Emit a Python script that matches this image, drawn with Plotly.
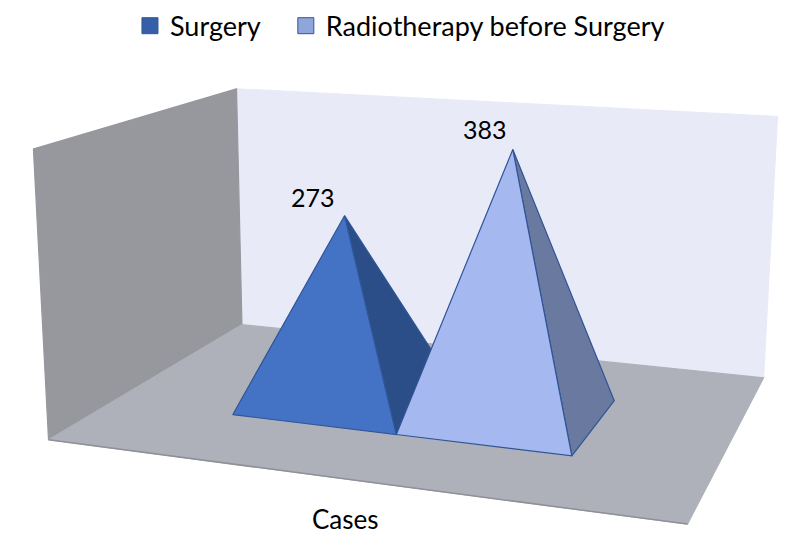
import math
import plotly.graph_objects as go

categories = ["Cases"]
series_names = ["Surgery", "Radiotherapy before Surgery"]
series_values = [273, 383]
axis_max = 400

FRONT = ["#4472c4", "#a5b9f0"]
SIDE = ["#2b4e88", "#6a799f"]
SWATCH = ["#3560a8", "#8fa6da"]
EDGE = "#2f5597"
FONT = "Lato"

# Scene: x along the floor width, y depth, z height (0..axis_max)
floor_x = (0.0, 1.123)
floor_y = (0.0, 0.793)
height_scale = 0.515 / axis_max
base_starts = [0.244, 0.5625]
base_width = 0.3185
base_y = (0.234, 0.5525)
label_dx = [-32, -28]
label_dy = [19, 20]
legend_pad = ["\u00a0\u00a0\u00a0", ""]

# Camera (the page body adds an 8 px margin, hence the 792x530 frame)
F_PX, CX, CY = 1700.0, 392.0, 261.0
yaw, pitch = math.radians(20.0), math.radians(13.8)
OX, OY = -1.542, 2.438  # floor origin relative to a camera of height 1


def project(x, y, z):
    wx, wy, wz = x + OX, y + OY, z * height_scale - 1.0
    sy, cy = math.sin(yaw), math.cos(yaw)
    sp, cp = math.sin(pitch), math.cos(pitch)
    R = (cy, sy, 0.0)
    Fw = (-sy * cp, cy * cp, -sp)
    U = (-sy * sp, cy * sp, cp)
    d = wx * Fw[0] + wy * Fw[1] + wz * Fw[2]
    r = wx * R[0] + wy * R[1] + wz * R[2]
    u = wx * U[0] + wy * U[1] + wz * U[2]
    return CX + F_PX * r / d, CY - F_PX * u / d


fig = go.Figure()


def face(points, fill, line=None, width=1.2, close=True):
    pts = [project(*p) for p in points]
    xs = [p[0] for p in pts] + ([pts[0][0]] if close else [])
    ys = [p[1] for p in pts] + ([pts[0][1]] if close else [])
    fig.add_trace(go.Scatter(
        x=xs, y=ys, mode="lines", fill="toself" if fill else "none", fillcolor=fill,
        line=dict(color=line or fill, width=width),
        hoverinfo="skip", showlegend=False))


x0, x1 = floor_x
y0, y1 = floor_y
face([(x0, y1, 0), (x1, y1, 0), (x1, y1, axis_max), (x0, y1, axis_max)], "#e8ebf7")
face([(x0, y0, 0), (x0, y1, 0), (x0, y1, axis_max), (x0, y0, axis_max)], "#97979e")
face([(x0, y0, 0), (x1, y0, 0), (x1, y1, 0), (x0, y1, 0)], "#aeb1b9")
face([(x0, y0, 0), (x1, y0, 0)], None, "#8f9198", 1.5, close=False)

for k, v in enumerate(series_values):
    a = base_starts[k]
    b = a + base_width
    cx = (a + b) / 2
    cy = (base_y[0] + base_y[1]) / 2
    apex = (cx, cy, v)
    face([(b, base_y[0], 0), (b, base_y[1], 0), apex], SIDE[k], EDGE)
    face([(a, base_y[0], 0), (b, base_y[0], 0), apex], FRONT[k], EDGE)
    ax, ay = project(*apex)
    fig.add_annotation(x=ax, y=ay, text=str(v), showarrow=False,
                       xshift=label_dx[k], yshift=label_dy[k],
                       font=dict(size=25, color="black", family=FONT))

lx, ly = project((x0 + x1) / 2, y0, 0)
fig.add_annotation(x=lx, y=ly, text=categories[0], showarrow=False, xshift=-1, yshift=-40,
                   font=dict(size=26, color="black", family=FONT))

for k, name in enumerate(series_names):
    fig.add_trace(go.Scatter(
        x=[None], y=[None], mode="markers", name=name + legend_pad[k],
        marker=dict(symbol="square", size=16, color=SWATCH[k], line=dict(color=EDGE, width=1))))

fig.update_layout(
    width=792, height=530, margin=dict(l=0, r=0, t=0, b=0, autoexpand=False),
    paper_bgcolor="white", plot_bgcolor="white",
    xaxis=dict(range=[0, 792], visible=False, fixedrange=True),
    yaxis=dict(range=[530, 0], visible=False, fixedrange=True),
    showlegend=True,
    legend=dict(orientation="h", x=0.154, xanchor="left", y=1.012, yanchor="top",
                font=dict(size=27, family=FONT, color="black"),
                itemsizing="trace", bgcolor="rgba(0,0,0,0)"),
)
fig.write_html("out.html")
